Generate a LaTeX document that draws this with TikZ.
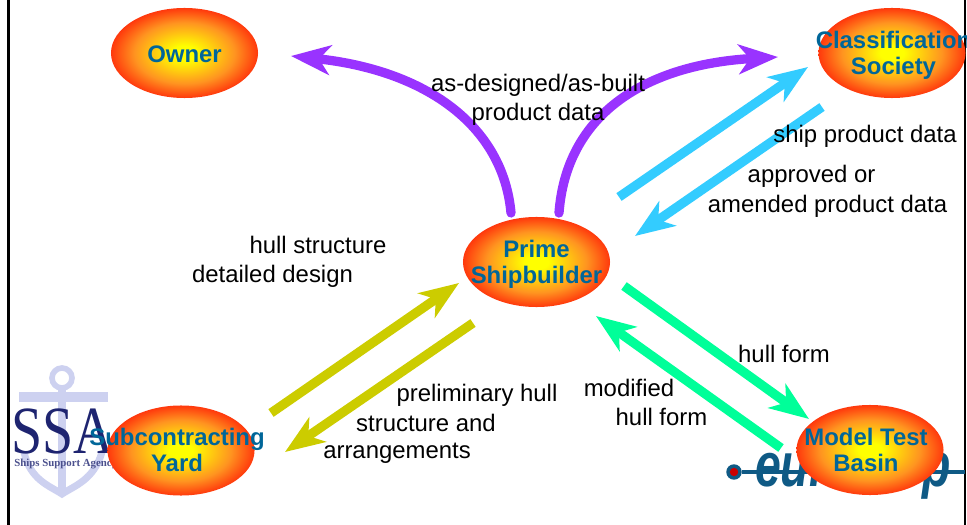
\documentclass[tikz,border=0pt]{standalone}
\usepackage{fontspec}
\setmainfont{Liberation Sans}
\newfontfamily\logofont{Liberation Serif}
\usetikzlibrary{arrows.meta, shapes.geometric}

\definecolor{flowpurple}{HTML}{9933FF}
\definecolor{flowblue}{HTML}{33CCFF}
\definecolor{flowgreen}{HTML}{00FF99}
\definecolor{flowolive}{HTML}{CCCC00}
\definecolor{partyteal}{HTML}{006699}
\definecolor{partymid}{HTML}{FF9420}
\definecolor{anchorblue}{HTML}{CDD1F0}
\definecolor{ssablue}{HTML}{1E2470}
\definecolor{eurblue}{HTML}{0F5A85}

\pgfdeclareradialshading{partyglow}{\pgfpointorigin}{color(0bp)=(yellow); color(4bp)=(yellow); color(17bp)=(partymid); color(30bp)=(red); color(50bp)=(red)}

\tikzset{
    party/.style={ellipse, minimum width=3.675cm, minimum height=2.25cm, inner sep=0pt,
        shading=partyglow},
    partyname/.style={align=center, text=partyteal, font=\fontsize{17}{18.7}\selectfont\bfseries},
    flowname/.style={align=center, font=\fontsize{17}{20.6}\selectfont},
    flow/.style={line width=6.6pt, -{Stealth[length=28pt, width=21pt, inset=8pt]}},
    anchorpart/.style={draw=anchorblue, line width=5pt},
}

\begin{document}
\begin{tikzpicture}[x=0.025cm, y=-0.025cm]
    \useasboundingbox (0, 0) rectangle (967, 525);

    % frame
    \coordinate (frameLT) at (8.5, 0);
    \coordinate (frameLB) at (8.5, 525);
    \coordinate (frameRT) at (965, 0);
    \coordinate (frameRB) at (965, 525);
    \draw[line width=2.1pt] (frameLT) -- (frameLB);
    \draw[line width=2.1pt] (frameRT) -- (frameRB);

    % SSA logo
    \draw[anchorpart, line width=4pt] (62, 378) circle (10);
    \draw[anchorpart] (62, 388) -- (62, 496);
    \draw[anchorpart, line width=7pt] (19, 397) -- (108, 397);
    \draw[anchorpart] (24, 452) .. controls (30, 480) and (50, 486) .. (62, 494) .. controls (74, 486) and (94, 480) .. (102, 452);
    \node[font=\logofont\fontsize{48}{48}\selectfont, text=ssablue, xscale=0.83, inner sep=0pt] (ssa) at (63, 431) {SSA};
    \node[font=\logofont\bfseries\fontsize{7.7}{8}\selectfont, text=ssablue!80, inner sep=0pt, anchor=west] (ssaname) at (14, 464) {Ships Support Agency};

    % eurostep logo
    \node[circle, fill=eurblue, minimum size=11pt, inner sep=0pt] (eurdot) at (734, 472) {};
    \node[circle, fill=red!80!black, minimum size=6pt, inner sep=0pt] at (eurdot) {};
    \coordinate (eurend) at (965, 472);
    \draw[eurblue, line width=2.4pt] (eurdot) -- (eurend);
    \node[font=\bfseries\itshape\fontsize{44}{44}\selectfont, text=eurblue, xscale=0.75, inner sep=0pt] (eurostep) at (853, 473) {eurostep};

    % parties
    \node[party] (owner) at (184.5, 53) {};
    \node[party] (society) at (892, 53) {};
    \node[party] (prime) at (536.5, 262) {};
    \node[party] (yard) at (181, 450.5) {};
    \node[party] (basin) at (870, 450) {};

    % flow ends
    \coordinate (ownerIn) at (291, 56);
    \coordinate (primeOutL) at (511, 213);
    \coordinate (primeOutR) at (559, 213);
    \coordinate (societyIn) at (778, 57);
    \coordinate (sendStart) at (619, 197);
    \coordinate (sendEnd) at (808, 67);
    \coordinate (backStart) at (822, 107);
    \coordinate (backEnd) at (635, 236);
    \coordinate (formStart) at (624, 286);
    \coordinate (formEnd) at (809, 419);
    \coordinate (modStart) at (781, 448);
    \coordinate (modEnd) at (596, 316);
    \coordinate (hullStart) at (271, 413);
    \coordinate (hullEnd) at (459, 283);
    \coordinate (prelimStart) at (473, 323);
    \coordinate (prelimEnd) at (285, 452);

    % flows
    \draw[flow, flowpurple, line cap=round] (primeOutL) .. controls (503, 125) and (425, 70) .. (ownerIn);
    \draw[flow, flowpurple, line cap=round] (primeOutR) .. controls (566, 118) and (640, 65) .. (societyIn);
    \draw[flow, flowblue] (sendStart) -- (sendEnd);
    \draw[flow, flowblue] (backStart) -- (backEnd);
    \draw[flow, flowgreen] (formStart) -- (formEnd);
    \draw[flow, flowgreen] (modStart) -- (modEnd);
    \draw[flow, flowolive] (hullStart) -- (hullEnd);
    \draw[flow, flowolive] (prelimStart) -- (prelimEnd);

    % party names
    \node[partyname] (ownerName) at (184.5, 54) {Owner};
    \node[partyname] (societyName) at (893.5, 55) {Classification\\Society};
    \node[partyname] (primeName) at (536.5, 264) {Prime\\Shipbuilder};
    \node[partyname] (yardName) at (177, 450) {Subcontracting\\Yard};
    \node[partyname] (basinName) at (866, 450) {Model Test\\Basin};

    % flow names
    \node[flowname] (designedName) at (538, 100) {as-designed/as-built\\product data};
    \node[flowname] (shipName) at (865, 136) {ship product data};
    \node[flowname] (approvedName) at (811.5, 176) {approved or};
    \node[flowname] (amendedName) at (827.5, 206) {amended product data};
    \node[flowname] (structName) at (318, 245) {hull structure};
    \node[flowname] (detailName) at (272.5, 276) {detailed design};
    \node[flowname] (formName) at (784, 354) {hull form};
    \node[flowname] (modifiedName) at (629, 388) {modified};
    \node[flowname] (modFormName) at (661.5, 417) {hull form};
    \node[flowname] (prelimName) at (477, 395) {preliminary hull};
    \node[flowname] (prelimStructName) at (426, 423) {structure and};
    \node[flowname] (arrangeName) at (397, 453.5) {arrangements};
\end{tikzpicture}
\end{document}
